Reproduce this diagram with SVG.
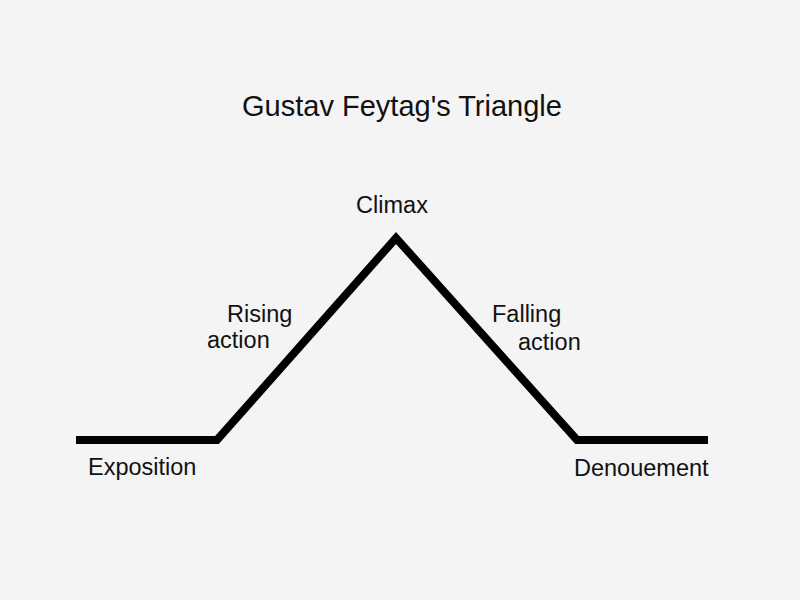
<svg xmlns="http://www.w3.org/2000/svg" width="800" height="600" viewBox="0 0 800 600">
  <style>
    text { font-family: "Liberation Sans", Arial, sans-serif; fill: #111111; }
    .title { font-size: 29px; }
    .label { font-size: 23.5px; }
    .plot { fill: none; stroke: #000000; stroke-width: 8; stroke-linejoin: miter; stroke-linecap: butt; }
  </style>
  <rect x="0" y="0" width="800" height="600" fill="#f4f4f4"/>
  <g id="title">
    <text class="title" x="402" y="116" text-anchor="middle">Gustav Feytag's Triangle</text>
  </g>
  <g id="connectors">
    <polyline class="plot" points="76,440 217,440 396,238 577,440 708,440"/>
  </g>
  <g id="climax">
    <text class="label" x="392" y="213" text-anchor="middle">Climax</text>
  </g>
  <g id="rising-action">
    <text class="label" x="227" y="322">Rising</text>
    <text class="label" x="207" y="348">action</text>
  </g>
  <g id="falling-action">
    <text class="label" x="492" y="322">Falling</text>
    <text class="label" x="518" y="350">action</text>
  </g>
  <g id="exposition">
    <text class="label" x="88" y="475">Exposition</text>
  </g>
  <g id="denouement">
    <text class="label" x="574" y="476">Denouement</text>
  </g>
</svg>
